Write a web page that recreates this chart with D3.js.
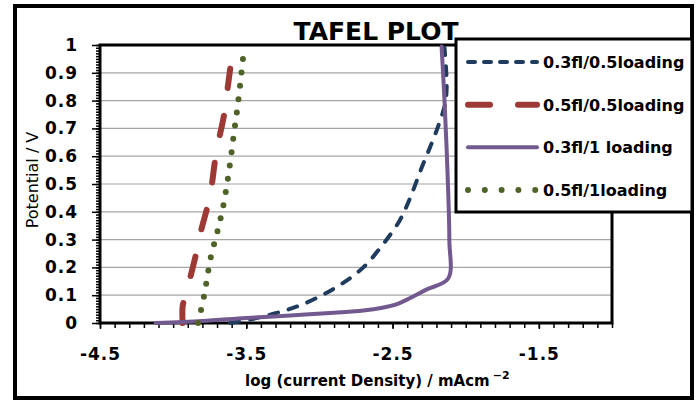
<!DOCTYPE html>
<html>
<head>
<meta charset="utf-8">
<script src="https://cdn.jsdelivr.net/npm/d3@7"></script>
<style>
  body { margin: 0; background: #fff; }
  svg { display: block; font-family: "DejaVu Sans", sans-serif; }
  .tick line { stroke: #000; stroke-width: 1.5; }
</style>
</head>
<body>
<script>
// series names (legend order)
var seriesNames = ["0.3fl/0.5loading", "0.5fl/0.5loading", "0.3fl/1 loading", "0.5fl/1loading"];

// [log current density, potential]
var fl03load05 = [[-3.61,0],[-3.45,0.015],[-3.3,0.035],[-3.15,0.06],[-3.0,0.095],[-2.85,0.14],
  [-2.7,0.2],[-2.57,0.28],[-2.45,0.37],[-2.38,0.45],[-2.3,0.56],[-2.23,0.65],[-2.18,0.72],
  [-2.14,0.79],[-2.13,0.85],[-2.135,0.92],[-2.145,0.99]];
var fl05load05 = [[-3.935,0],[-3.935,0.06],[-3.915,0.1],[-3.88,0.17],[-3.847,0.24],[-3.81,0.33],
  [-3.765,0.42],[-3.735,0.5],[-3.715,0.58],[-3.685,0.665],[-3.655,0.74],[-3.63,0.835],[-3.61,0.915]];
var fl03load1 = [[-4.12,0],[-3.8,0.007],[-3.5,0.018],[-3.2,0.027],[-2.9,0.037],[-2.7,0.045],
  [-2.57,0.055],[-2.47,0.068],[-2.38,0.09],[-2.27,0.12],[-2.12,0.16],[-2.112,0.3],[-2.125,0.55],
  [-2.145,0.8],[-2.165,0.995]];
var fl05load1 = [[-3.83,0],[-3.79,0.094],[-3.742,0.238],[-3.695,0.334],[-3.654,0.43],[-3.611,0.574],
  [-3.58,0.7],[-3.561,0.772],[-3.54,0.867],[-3.52,0.964]];

var xTicks = [-4.5, -3.5, -2.5, -1.5];
var yTicks = [0, 0.1, 0.2, 0.3, 0.4, 0.5, 0.6, 0.7, 0.8, 0.9, 1];

var width = 699, height = 400;
var svg, x, y;
var plot = {left: 100, top: 45, right: 612, bottom: 323};

// look of each series: colour, width, dash
var styles = [
  {color: "#1f3c5e", w: 4, dash: "9,11", legendDash: "7,9"},
  {color: "#9e3a36", w: 6, dash: "20,28", legendDash: "22,28"},
  {color: "#72598f", w: 4, dash: null, legendDash: null},
  {color: "#4f6228", w: 6, dash: "0,13.4", legendDash: "0,16.8"}
];

function init() {
    svg = d3.select("body").append("svg")
        .attr("width", width)
        .attr("height", height);

    // outer chart border
    svg.append("rect")
        .attr("x", 15).attr("y", 6)
        .attr("width", 677).attr("height", 392)
        .attr("fill", "#fff")
        .attr("stroke", "#000").attr("stroke-width", 4);

    x = d3.scaleLinear().domain([-4.5, -1]).range([plot.left, plot.right]);
    y = d3.scaleLinear().domain([0, 1]).range([plot.bottom, plot.top]);

    drawGrid();
    drawAxes();
    drawLines();
    drawTitles();
    drawLegend();
}

function drawGrid() {
    svg.append("g").selectAll("line")
        .data(yTicks.filter(function(d){ return d > 0 && d < 1; }))
        .enter().append("line")
        .attr("x1", plot.left).attr("x2", plot.right)
        .attr("y1", function(d){ return y(d); })
        .attr("y2", function(d){ return y(d); })
        .attr("stroke", "#a6a6a6").attr("stroke-width", 1.2);
}

function styleLabels(g) {
    g.select(".domain").remove();
    g.attr("font-family", "DejaVu Sans").attr("font-size", 17);
    g.selectAll("text")
        .attr("font-weight", "bold")
        .attr("letter-spacing", "1px")
        .attr("fill", "#000");
}

function drawAxes() {
    // minor ticks
    svg.append("g")
        .attr("transform", "translate(0," + plot.bottom + ")")
        .call(d3.axisBottom(x).tickValues(d3.range(-45, -9).map(function(d){ return d / 10; }))
            .tickSize(5).tickFormat(""))
        .select(".domain").remove();
    svg.append("g")
        .attr("transform", "translate(" + plot.left + ",0)")
        .call(d3.axisLeft(y).tickValues(d3.range(0, 101).map(function(d){ return d / 100; }))
            .tickSize(4).tickFormat(""))
        .select(".domain").remove();

    // major ticks with labels
    svg.append("g")
        .attr("transform", "translate(0," + plot.bottom + ")")
        .call(d3.axisBottom(x).tickValues(xTicks).tickSize(6).tickPadding(19)
            .tickFormat(function(d){ return d.toFixed(1); }))
        .call(styleLabels);
    svg.append("g")
        .attr("transform", "translate(" + plot.left + ",0)")
        .call(d3.axisLeft(y).tickValues(yTicks).tickSize(8).tickPadding(14)
            .tickFormat(function(d){ return d3.format("~g")(d); }))
        .call(styleLabels);

    // plot frame
    svg.append("rect")
        .attr("x", plot.left).attr("y", plot.top)
        .attr("width", plot.right - plot.left)
        .attr("height", plot.bottom - plot.top)
        .attr("fill", "none")
        .attr("stroke", "#000").attr("stroke-width", 3);
}

function drawLines() {
    var line = d3.line()
        .x(function(d){ return x(d[0]); })
        .y(function(d){ return y(d[1]); })
        .curve(d3.curveCatmullRom.alpha(0.5));

    var allSeries = [fl03load05, fl05load05, fl03load1, fl05load1];
    allSeries.forEach(function(s, i){
        svg.append("path")
            .datum(s)
            .attr("d", line)
            .attr("fill", "none")
            .attr("stroke", styles[i].color)
            .attr("stroke-width", styles[i].w)
            .attr("stroke-linecap", "round")
            .attr("stroke-linejoin", "round")
            .attr("stroke-dasharray", styles[i].dash);
    });
}

function drawTitles() {
    svg.append("text")
        .attr("x", 376).attr("y", 40)
        .attr("text-anchor", "middle")
        .attr("font-size", "25px")
        .attr("font-weight", "bold")
        .text("TAFEL PLOT");

    svg.append("text")
        .attr("transform", "translate(38,180) rotate(-90)")
        .attr("text-anchor", "middle")
        .attr("font-size", "16px")
        .text("Potential / V");

    var xt = svg.append("text")
        .attr("x", 245).attr("y", 386)
        .attr("font-size", "15px")
        .attr("font-weight", "bold");
    xt.append("tspan").text("log (current Density) / mAcm");
    xt.append("tspan").attr("dx", 3).attr("dy", -7).attr("font-size", "11px").text("\u22122");
}

function drawLegend() {
    var legend = svg.append("g").attr("class", "legend");
    legend.append("rect")
        .attr("x", 456).attr("y", 39)
        .attr("width", 236).attr("height", 173)
        .attr("fill", "#fff")
        .attr("stroke", "#000").attr("stroke-width", 3);

    var rowY = d3.scalePoint().domain(seriesNames).range([62, 190]);

    var item = legend.selectAll(".legend-element")
        .data(seriesNames)
        .enter().append("g")
        .attr("class", "legend-element")
        .attr("transform", function(d){ return "translate(0," + rowY(d) + ")"; });

    item.append("line")
        .attr("x1", 468).attr("x2", 537)
        .attr("stroke", function(d, i){ return styles[i].color; })
        .attr("stroke-width", function(d, i){ return styles[i].w; })
        .attr("stroke-linecap", "round")
        .attr("stroke-dasharray", function(d, i){ return styles[i].legendDash; });

    item.append("text")
        .attr("x", 543).attr("dy", 6)
        .attr("font-size", "16px")
        .attr("font-weight", "bold")
        .text(function(d){ return d; });
}

init();
</script>
</body>
</html>
